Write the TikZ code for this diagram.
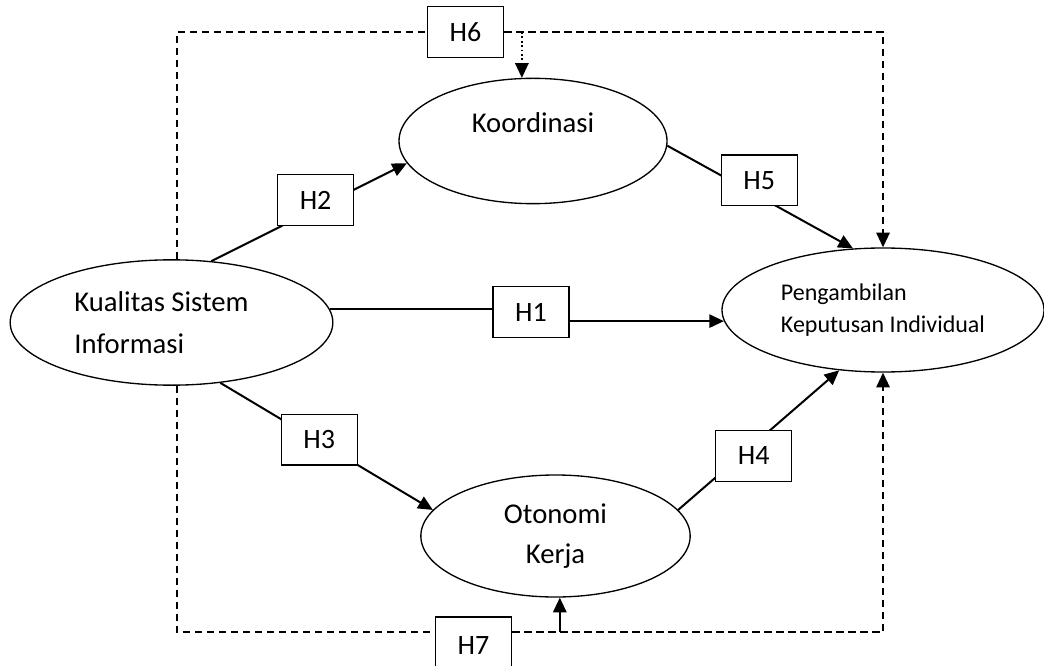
\documentclass[tikz,border=0pt]{standalone}
\usepackage{fontspec}
\setmainfont{Carlito}
\usetikzlibrary{shapes.geometric,arrows.meta}

\begin{document}
\begin{tikzpicture}[x=0.75pt,y=0.75pt,yscale=-1,xscale=1,
  varel/.style={draw, ellipse, line width=1pt, inner sep=0pt},
  hipo/.style={draw, fill=white, line width=1pt, minimum width=57pt, minimum height=38pt, inner sep=0pt, font=\fontsize{21}{24}\selectfont},
  ujung/.style={-{Triangle[length=11pt,width=10pt]}},
  panah/.style={line width=1.5pt, ujung},
  putus/.style={line width=1.3pt, dash pattern=on 5.5pt off 3.5pt}]
\useasboundingbox (0,0) rectangle (1044,666);

%Shape: Ellipse [kualitas]
\draw (171.5,322.5) node [varel, minimum width=242pt, minimum height=94pt, align=left, font=\fontsize{21.5}{31.5}\selectfont] (kualitas) {Kualitas Sistem\hspace*{15pt}\\Informasi};
%Shape: Ellipse [koordinasi]
\draw (533,141) node [varel, minimum width=201pt, minimum height=94pt, align=center, font=\fontsize{21.5}{27}\selectfont] (koordinasi) {Koordinasi\\\mbox{}};
%Shape: Ellipse [otonomi]
\draw (555.5,536) node [varel, minimum width=202pt, minimum height=91.5pt, align=center, font=\fontsize{21.5}{30}\selectfont] (otonomi) {Otonomi\\Kerja};
%Shape: Ellipse [pengambilan]
\draw (883,310) node [varel, minimum width=241.5pt, minimum height=93pt, align=left, font=\fontsize{18}{24}\selectfont] (pengambilan) {Pengambilan\\Keputusan Individual};

% Text Node
\draw (531,312) node [hipo] (h1) {H1};
% Text Node
\draw (465.5,32) node [hipo] (h6) {H6};
% Text Node
\draw (473.5,646) node [hipo, minimum height=43.5pt] (h7) {H7};
\coordinate (bawah) at (0,632);

%Straight Lines [H1]
\draw [line width=1.5pt] (kualitas.5) -- (kualitas.5 -| h1.west);
\draw [panah] (pengambilan.184 -| h1.east) -- (pengambilan.184);
%Straight Lines [H2 - H5]
\draw [panah] (kualitas.57) -- (koordinasi.190);
\draw [panah] (kualitas.309) -- (otonomi.168);
\draw [panah] (otonomi.12) -- (pengambilan.234);
\draw [panah] (koordinasi.358) -- (pengambilan.116);

%Dashed Lines [H6, H7]
\draw [putus] (kualitas.85) |- (h6.west);
\draw [putus, ujung] (h6.east) -| (pengambilan.north);
\draw [line width=1.3pt, dotted, ujung] (koordinasi.100 |- h6.east) -- (koordinasi.100);
\draw [putus] (kualitas.275) |- (h7.west |- bawah);
\draw [putus, ujung] (h7.east |- bawah) -| (pengambilan.south);
\draw [panah] (otonomi.274 |- bawah) -- (otonomi.274);

% Text Node
\draw (315.6,200) node [hipo] (h2) {H2};
% Text Node
\draw (319.3,439.5) node [hipo] (h3) {H3};
% Text Node
\draw (753.7,456) node [hipo] (h4) {H4};
% Text Node
\draw (759.3,180.5) node [hipo] (h5) {H5};

\end{tikzpicture}
\end{document}
